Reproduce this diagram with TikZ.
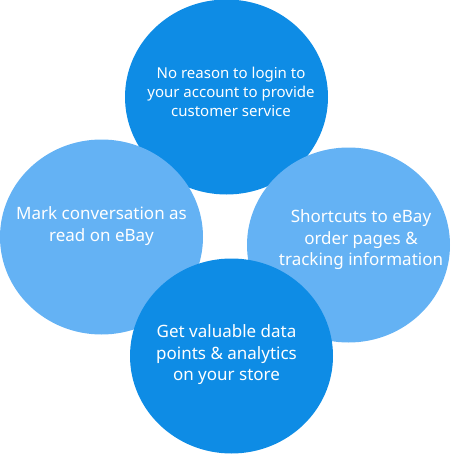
\documentclass[tikz,border=0pt]{standalone}
\usepackage{fontspec}
\setmainfont{Noto Sans}
\usetikzlibrary{shapes.geometric}
\definecolor{bubbledark}{HTML}{0E8CE5}
\definecolor{bubblelight}{HTML}{64B2F4}
\begin{document}
\begin{tikzpicture}[
    x=1pt, y=-1pt,
    bubble/.style={ellipse, draw=none, inner sep=0pt, minimum width=203pt, minimum height=195pt},
    darkbubble/.style={bubble, fill=bubbledark},
    lightbubble/.style={bubble, fill=bubblelight},
    caption/.style={text=white, align=center, font=\fontsize{17}{21.5}\selectfont},
    smallcaption/.style={caption, font=\fontsize{15}{19}\selectfont}
]

\useasboundingbox (0,0) rectangle (450,466);

\node[darkbubble] (login) at (226.5,97) {};
\node[lightbubble] (mark) at (101.5,237) {};
\node[lightbubble] (shortcuts) at (348.5,245) {};
\node[darkbubble] (data) at (231.5,356) {};

\node[smallcaption] (logintext) at (231,92) {No reason to login to\\your account to provide\\customer service};
\node[caption] (marktext) at (101.5,226) {Mark conversation as\\read on eBay};
\node[caption] (shortcutstext) at (361,240) {Shortcuts to eBay\\order pages \&\\tracking information};
\node[caption] (datatext) at (226.5,355) {Get valuable data\\points \& analytics\\on your store};

\end{tikzpicture}
\end{document}
